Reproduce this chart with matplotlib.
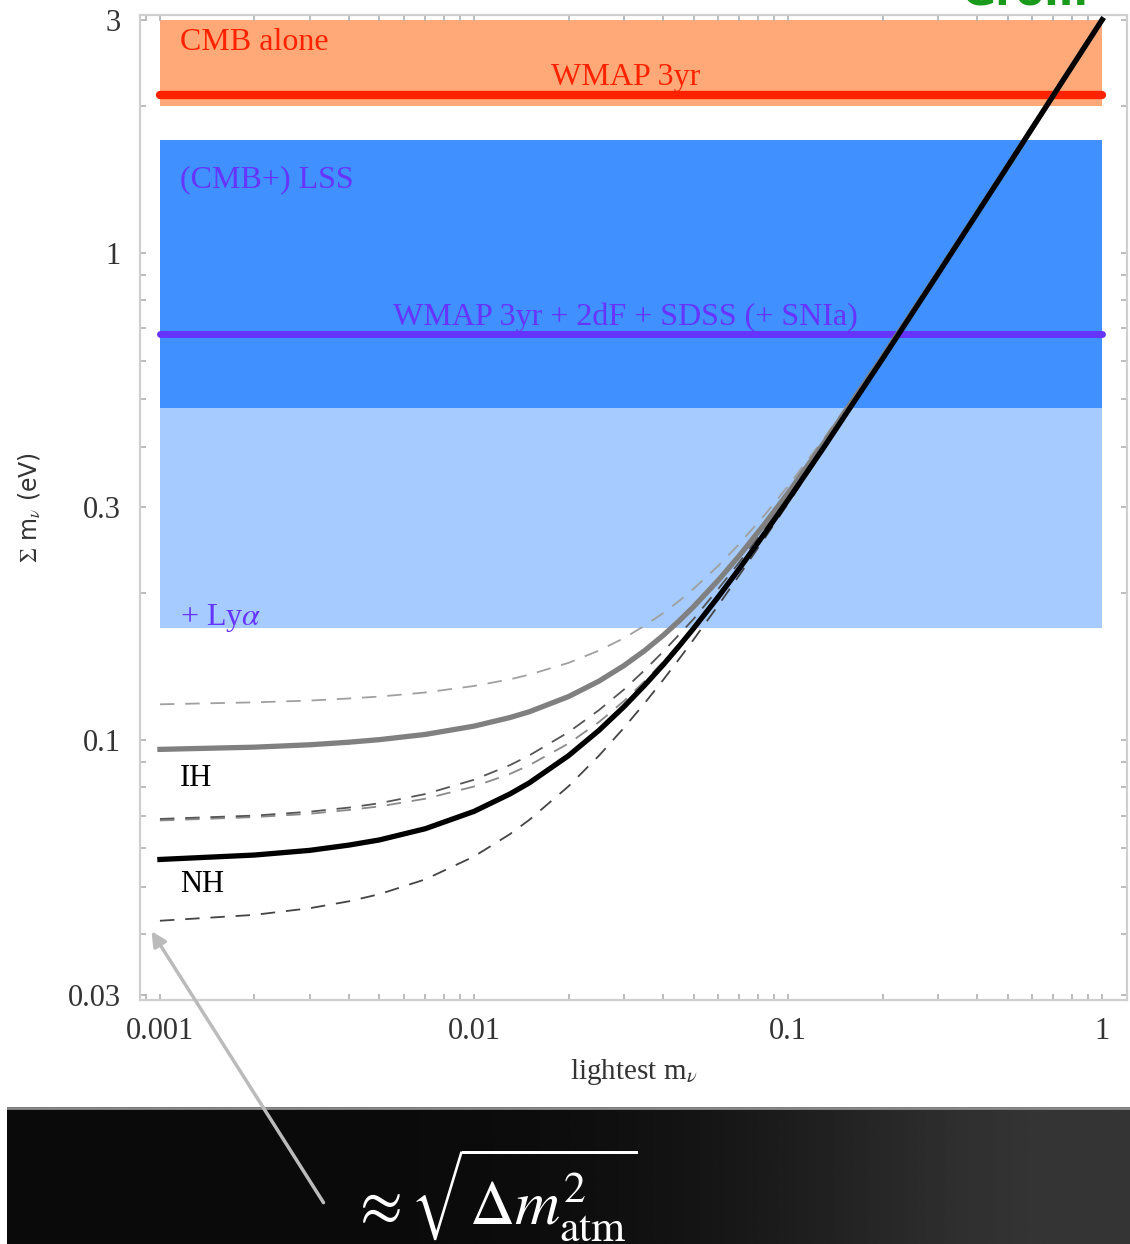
import numpy as np
import matplotlib
matplotlib.use('Agg')
import matplotlib.pyplot as plt
from matplotlib.ticker import FixedLocator, LogLocator, NullFormatter, FixedFormatter

plt.rcParams['mathtext.fontset'] = 'stix'
plt.rcParams['font.family'] = ['Liberation Serif', 'DejaVu Serif']

# lightest neutrino mass (eV) and sum of masses
m_light = [0.001, 0.002, 0.003, 0.004, 0.005, 0.007, 0.01, 0.013, 0.015, 0.02,
           0.025, 0.03, 0.035, 0.04, 0.045, 0.05, 0.06, 0.07, 0.085, 0.1,
           0.13, 0.2, 0.3, 0.5, 1.0]
nh = [0.0569, 0.0581, 0.0594, 0.0609, 0.0624, 0.0658, 0.0714, 0.0775, 0.0817, 0.0929,
      0.1047, 0.1170, 0.1297, 0.1426, 0.1559, 0.1694, 0.1968, 0.2248, 0.2676, 0.3109,
      0.3985, 0.6056, 0.9038, 1.5023, 3.0012]
ih = [0.0957, 0.0967, 0.0978, 0.0990, 0.1002, 0.1027, 0.1068, 0.1112, 0.1143, 0.1228,
      0.1321, 0.1421, 0.1527, 0.1639, 0.1756, 0.1877, 0.2128, 0.2390, 0.2796, 0.3213,
      0.4067, 0.6111, 0.9074, 1.5045, 3.0023]
ih_hi = [0.1184, 0.1195, 0.1205, 0.1217, 0.1228, 0.1252, 0.1291, 0.1332, 0.1362, 0.1440,
         0.1526, 0.1618, 0.1717, 0.1821, 0.1929, 0.2042, 0.2279, 0.2527, 0.2916, 0.3319,
         0.4153, 0.6169, 0.9114, 1.5069, 3.0035]
ih_lo = [0.0684, 0.0695, 0.0706, 0.0719, 0.0731, 0.0758, 0.0803, 0.0852, 0.0888, 0.0984,
         0.1089, 0.1202, 0.1322, 0.1446, 0.1574, 0.1706, 0.1976, 0.2254, 0.2679, 0.3111,
         0.3986, 0.6056, 0.9038, 1.5023, 3.0011]
nh_hi = [0.0689, 0.0700, 0.0713, 0.0727, 0.0742, 0.0775, 0.0829, 0.0888, 0.0930, 0.1038,
         0.1152, 0.1269, 0.1393, 0.1518, 0.1646, 0.1771, 0.2044, 0.2317, 0.2736, 0.3162,
         0.4028, 0.6086, 0.9058, 1.5035, 3.0017]
nh_lo = [0.0426, 0.0438, 0.0452, 0.0467, 0.0483, 0.0518, 0.0577, 0.0641, 0.0686, 0.0804,
         0.0929, 0.1059, 0.1192, 0.1328, 0.1467, 0.1607, 0.1891, 0.2180, 0.2617, 0.3057,
         0.3944, 0.6029, 0.9020, 1.5012, 3.0006]

# cosmological bounds (eV)
x_band = [0.001, 1.0]
cmb_band = [2.0, 3.0]
wmap_limit = 2.1
lss_band = [0.48, 1.7]
lss_limit = 0.68
lya_band = [0.17, 0.48]

x_ticks = [0.001, 0.01, 0.1, 1]
x_labels = ['0.001', '0.01', '0.1', '1']
y_ticks = [0.03, 0.1, 0.3, 1, 3]
y_labels = ['0.03', '0.1', '0.3', '1', '3']

fig = plt.figure(figsize=(11.3, 12.44), dpi=100)

# dark banner at the bottom
band_ax = fig.add_axes([7 / 1130, 0, 1123 / 1130, 137 / 1244])
band_ax.set_zorder(0)
grad = np.linspace(0, 1, 400)
shade = 0.04 + 0.17 * np.exp(-((grad - 0.97) / 0.30) ** 2)
img = np.tile(shade, (60, 1))
band_ax.imshow(img, cmap='gray', vmin=0, vmax=1, aspect='auto', extent=[0, 1, 0, 1])
band_ax.axhline(0.995, color='#8a8a8a', lw=2)
band_ax.set_xlim(0, 1)
band_ax.set_ylim(0, 1)
band_ax.axis('off')
band_ax.text(0.305, 0.36, r'$\approx\sqrt{\Delta m^2_{\rm atm}}$', color='white',
             fontsize=45, ha='left', va='center')

ax = fig.add_axes([140 / 1130, 1 - 1000 / 1244, 987 / 1130, 985 / 1244])
ax.set_zorder(1)
ax.set_xscale('log')
ax.set_yscale('log')
ax.set_xlim(0.000864, 1.2)
ax.set_ylim(0.0293, 3.07)

ax.fill_between(x_band, cmb_band[0], cmb_band[1], color='#FFA878', lw=0, zorder=1)
ax.fill_between(x_band, lss_band[0], lss_band[1], color='#4090FF', lw=0, zorder=1)
ax.fill_between(x_band, lya_band[0], lya_band[1], color='#A6CBFF', lw=0, zorder=1)
ax.plot(x_band, [wmap_limit, wmap_limit], color='#FF2200', lw=6, solid_capstyle='round', zorder=2)
ax.plot(x_band, [lss_limit, lss_limit], color='#6633FF', lw=5, solid_capstyle='round', zorder=2)

txt_kw = dict(transform=ax.transAxes, fontsize=23, va='center', ha='left')
ax.text(0.0405, 0.9725, 'CMB alone', color='#FF2200', **txt_kw)
ax.text(0.4164, 0.937, 'WMAP 3yr', color='#FF2200', **txt_kw)
ax.text(0.0405, 0.8325, '(CMB+) LSS', color='#6633FF', **txt_kw)
ax.text(0.2563, 0.693, 'WMAP 3yr + 2dF + SDSS (+ SNIa)', color='#6633FF', **txt_kw)
ax.text(0.0405, 0.3875, r'+ Ly$\alpha$', color='#6633FF', **txt_kw)

dash_kw = dict(lw=1.3, dashes=(8, 6), zorder=3)
ax.plot(m_light, ih_hi, color='#a0a0a0', **dash_kw)
ax.plot(m_light, ih_lo, color='#8a8a8a', **dash_kw)
ax.plot(m_light, nh_hi, color='#555555', **dash_kw)
ax.plot(m_light, nh_lo, color='#444444', **dash_kw)
ax.plot(m_light, ih, color='#808080', lw=3.8, solid_joinstyle='round', zorder=4)
ax.plot(m_light, nh, color='black', lw=3.8, solid_joinstyle='round', zorder=5)

ax.text(0.0405, 0.2245, 'IH', transform=ax.transAxes, fontsize=22, va='center', ha='left')
ax.text(0.0405, 0.117, 'NH', transform=ax.transAxes, fontsize=22, va='center', ha='left')

ax.xaxis.set_major_locator(FixedLocator(x_ticks))
ax.xaxis.set_major_formatter(FixedFormatter(x_labels))
ax.yaxis.set_major_locator(FixedLocator(y_ticks))
ax.yaxis.set_major_formatter(FixedFormatter(y_labels))
ax.xaxis.set_minor_locator(LogLocator(base=10, subs=np.arange(1, 10), numticks=20))
ax.yaxis.set_minor_locator(LogLocator(base=10, subs=np.arange(1, 10), numticks=20))
ax.xaxis.set_minor_formatter(NullFormatter())
ax.yaxis.set_minor_formatter(NullFormatter())
ax.tick_params(which='both', direction='in', top=True, right=True, color='#b0b0b0',
               length=4, width=1.2, labelsize=22, labelcolor='#333333')
ax.tick_params(axis='x', which='major', pad=12)
ax.tick_params(axis='y', which='major', pad=14)
for s in ax.spines.values():
    s.set_color('#cfcfcf')
    s.set_linewidth(1.6)

ax.set_xlabel(r'lightest m$_\nu$', fontsize=21, color='#333333', labelpad=8)
ax.set_ylabel(r'$\Sigma$ m$_\nu$ (eV)', fontsize=17, color='#333333', labelpad=18,
              family=['DejaVu Sans'])

ax.annotate('', xy=(0.00093, 0.041), xycoords='data',
            xytext=(325 / 1130, 1 - 1205 / 1244), textcoords='figure fraction',
            arrowprops=dict(arrowstyle='-|>', color='#bbbbbb', lw=2.5, mutation_scale=22),
            annotation_clip=False, zorder=10)

fig.text(1025 / 1130, 1 - 6 / 1244, 'Grom', color='#1a9a1a', fontsize=30,
         fontweight='bold', family=['DejaVu Sans'], ha='center', va='baseline')

fig.savefig('out.png', dpi=100)
